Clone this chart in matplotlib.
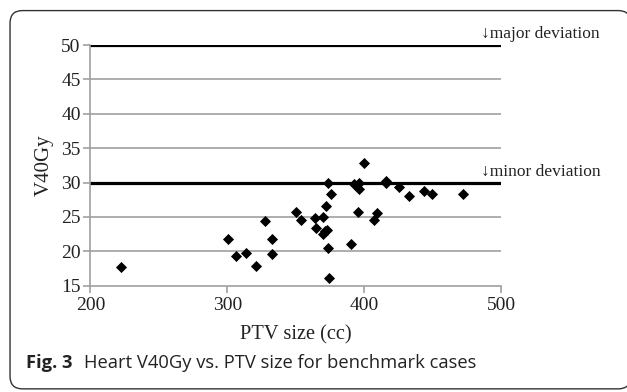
import matplotlib.pyplot as plt
from matplotlib.patches import FancyBboxPatch

# datos
ptv_cc = [222.5, 300.7, 306.0, 313.7, 321.0, 327.6, 332.9, 332.9, 349.8, 353.5,
          363.7, 364.6, 369.6, 369.5, 371.2, 373.0, 372.1, 373.3, 375.7, 373.3,
          374.3, 390.3, 392.7, 396.4, 396.4, 395.2, 400.0, 407.4, 409.3, 415.9,
          415.9, 425.6, 432.4, 443.6, 449.5, 472.3]
v40gy = [17.7, 21.8, 19.35, 19.75, 17.9, 24.4, 21.8, 19.57, 25.67, 24.57,
         24.8, 23.4, 24.95, 22.5, 22.9, 23.15, 26.6, 29.98, 28.3, 20.5,
         16.1, 21.05, 29.75, 29.98, 29.0, 25.67, 32.9, 24.55, 25.5, 30.27,
         29.9, 29.4, 28.1, 28.8, 28.4, 28.4]

limites = [30, 50]
etiquetas_limite = ['\u2193minor deviation', '\u2193major deviation']
x_ticks = [200, 300, 400, 500]
y_ticks = [15, 20, 25, 30, 35, 40, 45, 50]

serif = ['Liberation Serif', 'DejaVu Serif']
gris = '#a0a0a0'

fig = plt.figure(figsize=(6.27, 3.92), dpi=100)

# marco redondeado
marco = FancyBboxPatch((0.016, 0.008), 0.99, 0.965, transform=fig.transFigure,
                       boxstyle='round,pad=0,rounding_size=0.02',
                       facecolor='white', edgecolor='#333333', linewidth=1.0,
                       mutation_aspect=1.6, zorder=-5)
fig.patches.append(marco)

ax = fig.add_axes([0.1442, 0.2712, 0.6552, 0.6140])
ax.set_zorder(2)
ax.patch.set_alpha(0)
ax.set_xlim(200, 500)
ax.set_ylim(15, 50)

for y in y_ticks:
    if y not in limites and y != 15:
        ax.axhline(y, color=gris, linewidth=1.2, zorder=1)
for y in limites:
    ax.axhline(y, color='black', linewidth=2.3, zorder=2)

ax.scatter(ptv_cc, v40gy, marker='D', s=32, color='black', zorder=3, linewidths=0)

# etiquetas de los limites, arriba a la derecha de cada linea
for y, txt in zip(limites, etiquetas_limite):
    ax.text(485, y + 1.6, txt, family=serif, fontsize=12.5, ha='left', va='center',
            clip_on=False, color='#222222')

for lado in ['top', 'right']:
    ax.spines[lado].set_visible(False)
for lado in ['left', 'bottom']:
    ax.spines[lado].set_color(gris)
    ax.spines[lado].set_linewidth(1.2)

ax.set_xticks(x_ticks)
ax.set_yticks(y_ticks)
ax.tick_params(direction='out', length=5, width=1.2, color=gris, labelsize=14,
               labelcolor='#222222')
ax.tick_params(axis='y', pad=2)
for lab in ax.get_xticklabels() + ax.get_yticklabels():
    lab.set_family(serif)

ax.set_xlabel('PTV size (cc)', family=serif, fontsize=14.7, color='#222222', labelpad=8)
ax.set_ylabel('V40Gy', family=serif, fontsize=15, color='#222222', labelpad=5)

fig.text(0.0408, 0.073, 'Fig. 3', family='Open Sans', fontweight='bold', fontsize=13.2,
         color='#222222', va='center')
fig.text(0.134, 0.073, 'Heart V40Gy vs. PTV size for benchmark cases', family='Open Sans',
         fontsize=13.2, color='#222222', va='center')

fig.savefig('out.png', dpi=100)
